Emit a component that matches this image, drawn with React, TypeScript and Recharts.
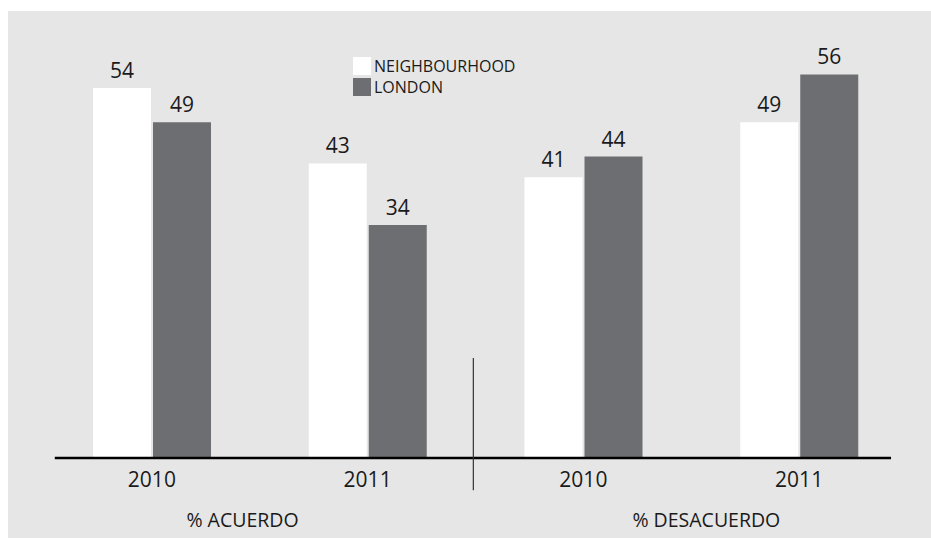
import React from "react";
import { BarChart, Bar, XAxis, YAxis, Legend, LabelList, ReferenceLine } from "recharts";

const categoryIndex = [0.5, 1.5, 2.5, 3.5];
const years = ["2010", "2011", "2010", "2011"];
const neighbourhood = [54, 43, 41, 49];
const london = [49, 34, 44, 56];
const seriesNames = ["NEIGHBOURHOOD", "LONDON"];
const groupLabels = ["% ACUERDO", "% DESACUERDO"];
const groupLabelPositions = [0.92, 3.07];

const data = categoryIndex.map((x, i) => ({
  x,
  year: years[i],
  neighbourhood: neighbourhood[i],
  london: london[i],
}));

const COLORS = { neighbourhood: "#ffffff", london: "#6d6e71" };
const TEXT = "#1a1a1a";
const FONT = "'Open Sans', sans-serif";

const LegendContent = () => (
  <div style={{ fontFamily: FONT, fontSize: 16, color: TEXT, lineHeight: "18px" }}>
    {seriesNames.map((name, i) => (
      <div key={name} style={{ display: "flex", alignItems: "center", marginBottom: i === 0 ? 3 : 0 }}>
        <div
          style={{
            width: 18,
            height: 18,
            background: i === 0 ? COLORS.neighbourhood : COLORS.london,
            marginRight: 3,
          }}
        />
        <span>{name}</span>
      </div>
    ))}
  </div>
);

export default function App() {
  return (
    <div
      style={{
        position: "absolute",
        left: 8,
        top: 11,
        width: 923,
        height: 527,
        background: "#e6e6e6",
        fontFamily: FONT,
      }}
    >
      <BarChart
        width={923}
        height={527}
        data={data}
        margin={{ top: 36, right: 24, left: 36, bottom: 0 }}
        barGap={2}
      >
        <XAxis
          dataKey="x"
          type="number"
          domain={[0, 4]}
          ticks={categoryIndex}
          tickFormatter={(v: number) => years[Math.floor(v)]}
          axisLine={false}
          tickLine={false}
          tickSize={0}
          tickMargin={14}
          height={40}
          interval={0}
          tick={{ fill: TEXT, fontSize: 21, fontFamily: FONT }}
        />
        <XAxis
          xAxisId="group"
          dataKey="x"
          type="number"
          domain={[0, 4]}
          ticks={groupLabelPositions}
          tickFormatter={(v: number) => groupLabels[v < 2 ? 0 : 1]}
          axisLine={false}
          tickLine={false}
          tickSize={0}
          tickMargin={15}
          height={40}
          interval={0}
          tick={{ fill: TEXT, fontSize: 19.5, fontFamily: FONT }}
        />
        <YAxis hide domain={[0, 60]} />
        <Legend
          layout="vertical"
          align="center"
          verticalAlign="middle"
          content={<LegendContent />}
          wrapperStyle={{ left: 345, top: 46, width: "auto" }}
        />
        <Bar dataKey="neighbourhood" fill={COLORS.neighbourhood} barSize={58} isAnimationActive={false}>
          <LabelList dataKey="neighbourhood" position="top" offset={10} fill={TEXT} fontSize={21} fontFamily={FONT} />
        </Bar>
        <Bar dataKey="london" fill={COLORS.london} barSize={58} isAnimationActive={false}>
          <LabelList dataKey="london" position="top" offset={10} fill={TEXT} fontSize={21} fontFamily={FONT} />
        </Bar>
        <ReferenceLine
          ifOverflow="visible"
          segment={[{ x: 0.05, y: 0 }, { x: 3.926, y: 0 }]}
          stroke="#000000"
          strokeWidth={2.5}
        />
        <ReferenceLine
          ifOverflow="visible"
          segment={[{ x: 1.99, y: -4.7 }, { x: 1.99, y: 14.6 }]}
          stroke="#333333"
          strokeWidth={1.2}
        />
      </BarChart>
    </div>
  );
}
